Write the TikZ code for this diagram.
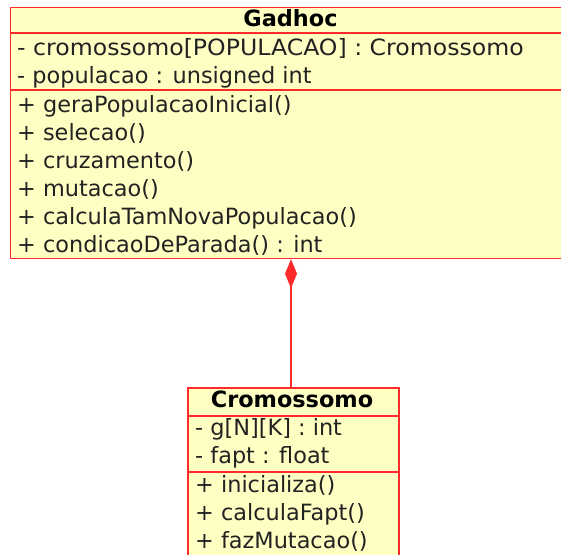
\documentclass[tikz,border=0pt]{standalone}
\usepackage{graphicx}
\usepackage{fontspec}
\setmainfont{DejaVu Sans}
\usetikzlibrary{arrows.meta}
\definecolor{umlfill}{HTML}{FFFFC4}
\definecolor{umlline}{HTML}{FF2A2A}
\definecolor{umltext}{HTML}{222222}
\tikzset{
  classbox/.style={draw=umlline, fill=umlfill, line width=1.7pt, rectangle, inner sep=0pt, anchor=north west},
  sepline/.style={draw=umlline, line width=1.5pt},
  row/.style={anchor=base west, inner sep=0pt, text=umltext, font=\fontsize{22.4}{26}\selectfont},
  title/.style={anchor=base, inner sep=0pt, text=black, font=\fontsize{22.4}{26}\selectfont\bfseries},
  conn/.style={draw=umlline, line width=1.5pt},
}
\begin{document}
\begin{tikzpicture}[x=1pt,y=-1pt]
\useasboundingbox (0,0) rectangle (561,554);
\clip (0,0) rectangle (561,554);
% Gadhoc class
\node[classbox, minimum width=564pt, minimum height=251pt] (gad) at (9.5,6.5) {};
\draw[sepline] (gad.west |- 0,33) -- (gad.east |- 0,33);
\draw[sepline] (gad.west |- 0,90) -- (gad.east |- 0,90);
\node[title] (gadt) at (290.5,26) {Gadhoc};
\node[row] (ga1) at (17,55) {\scalebox{1.054}[1]{- cromossomo[POPULACAO] : Cromossomo}};
\node[row] (ga2) at (17,83) {- populacao : unsigned int};
\node[row] (gm1) at (17,112) {+ geraPopulacaoInicial()};
\node[row] (gm2) at (17,140) {+ selecao()};
\node[row] (gm3) at (17,168) {+ cruzamento()};
\node[row] (gm4) at (17,196) {+ mutacao()};
\node[row] (gm5) at (17,224) {+ calculaTamNovaPopulacao()};
\node[row] (gm6) at (17,252) {+ condicaoDeParada() : int};
% Cromossomo class
\node[classbox, minimum width=211pt, minimum height=200pt] (crom) at (187,387) {};
\draw[sepline] (crom.west |- 0,416) -- (crom.east |- 0,416);
\draw[sepline] (crom.west |- 0,472) -- (crom.east |- 0,472);
\node[title] (cromt) at (292,407) {Cromossomo};
\node[row] (ca1) at (195,435) {- g[N][K] : int};
\node[row] (ca2) at (195,463) {- fapt : float};
\node[row] (cm1) at (195,492) {+ inicializa()};
\node[row] (cm2) at (195,520) {+ calculaFapt()};
\node[row] (cm3) at (195,548) {+ fazMutacao()};
% composition
\draw[conn, {Diamond[length=29pt,width=12pt,fill=umlline]}-] (gad.south -| 291,0) -- (crom.north -| 291,0);
\end{tikzpicture}
\end{document}
